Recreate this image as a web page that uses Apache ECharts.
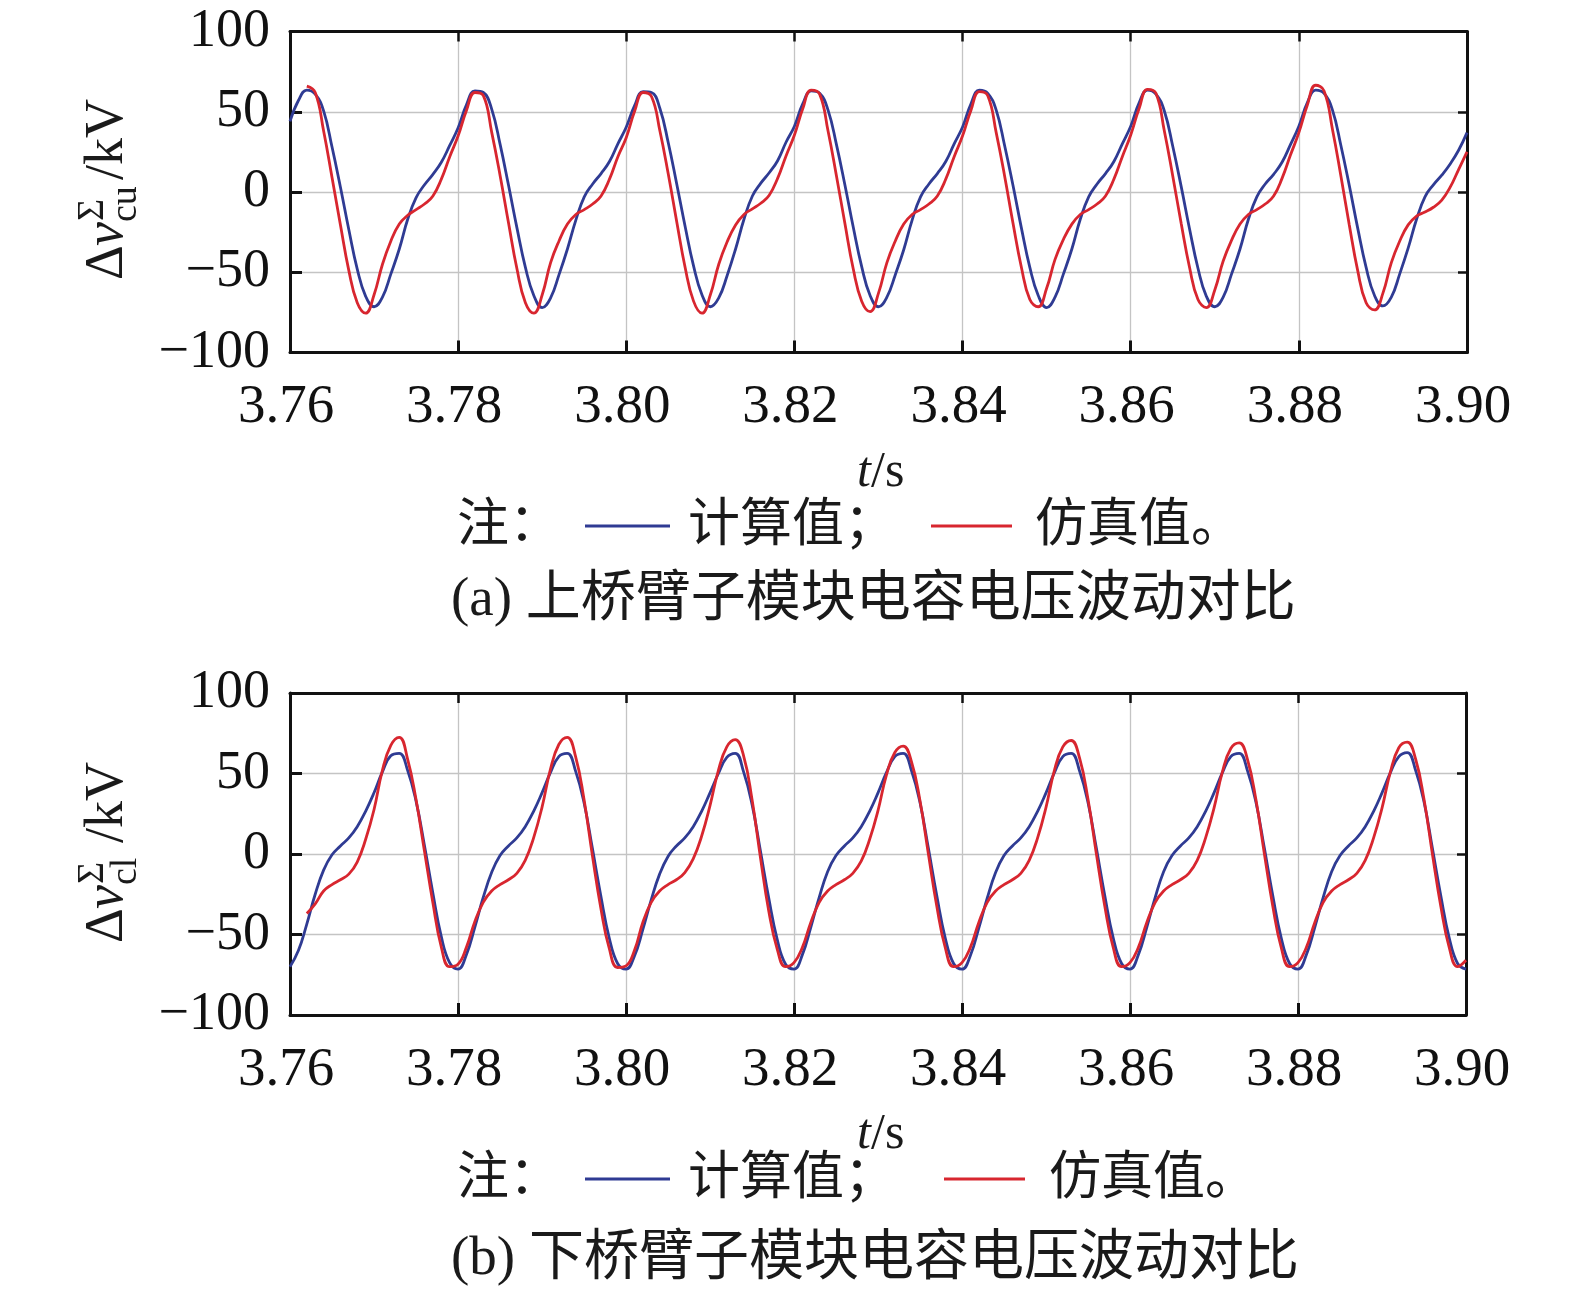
<!DOCTYPE html>
<html>
<head>
<meta charset="utf-8">
<script src="https://cdn.jsdelivr.net/npm/echarts@6/dist/echarts.min.js"></script>
<style>
html,body{margin:0;padding:0;background:#fff;}
#chart{width:1575px;height:1297px;}
</style>
</head>
<body>
<div id="chart"></div>
<script>
// ---- sample times (s) ----
const times = [
3.760,3.761,3.762,3.763,3.764,3.765,3.766,3.767,3.768,3.769,3.770,3.771,3.772,3.773,3.774,3.775,3.776,3.777,3.778,3.779,
3.780,3.781,3.782,3.783,3.784,3.785,3.786,3.787,3.788,3.789,3.790,3.791,3.792,3.793,3.794,3.795,3.796,3.797,3.798,3.799,
3.800,3.801,3.802,3.803,3.804,3.805,3.806,3.807,3.808,3.809,3.810,3.811,3.812,3.813,3.814,3.815,3.816,3.817,3.818,3.819,
3.820,3.821,3.822,3.823,3.824,3.825,3.826,3.827,3.828,3.829,3.830,3.831,3.832,3.833,3.834,3.835,3.836,3.837,3.838,3.839,
3.840,3.841,3.842,3.843,3.844,3.845,3.846,3.847,3.848,3.849,3.850,3.851,3.852,3.853,3.854,3.855,3.856,3.857,3.858,3.859,
3.860,3.861,3.862,3.863,3.864,3.865,3.866,3.867,3.868,3.869,3.870,3.871,3.872,3.873,3.874,3.875,3.876,3.877,3.878,3.879,
3.880,3.881,3.882,3.883,3.884,3.885,3.886,3.887,3.888,3.889,3.890,3.891,3.892,3.893,3.894,3.895,3.896,3.897,3.898,3.899,
3.900];

// ---- (a) upper arm: calculated (blue) ----
const upperCalc = [
44,57,63.5,61,50.5,28,3,-23.5,-48,-65,-71.5,-65.5,-51,-35.5,-17,-3.5,4.5,11,18.5,29,
40,54.5,63,62,51.5,29.5,4,-22.5,-47,-64.5,-72,-66,-51.5,-35.5,-17.5,-3,5,11.5,19,30,
40.5,54,62.5,62,52,30.5,5,-21.5,-46,-64,-71.5,-66,-52,-35.5,-17,-2.5,5.5,12,19.5,31,
41,55,63,61.5,51,29.5,4.5,-22,-46.5,-64.5,-71.5,-65.5,-51.5,-36,-17.5,-3,5,11.5,19,30,
40.5,55,63.5,61.5,51,29,4,-22.5,-47,-64.5,-72,-65.5,-51,-35.5,-17,-3,5,11.5,19,30,
41,55.5,63.5,61,50.5,28.5,3.5,-23,-47.5,-65,-71.5,-65.5,-51,-35.5,-17,-3,5,11,18.5,29.5,
41,55.5,63.5,61.5,51,29,4,-22.5,-47,-64.5,-71,-65.5,-51,-35,-17,-3,4.5,10.5,17.5,26,
37];

// ---- (a) upper arm: simulated (red) ----
const upperSim = [
null,null,66,62,38,9,-20.5,-49,-69,-75.5,-64,-45,-30.5,-20,-14.5,-11,-7.5,-2.5,8,22,
35,51,62,60,37,10,-19.5,-48,-69,-75.5,-64,-44,-30.5,-20,-14,-11,-7.5,-2.5,8,22,
34,50.5,62,59.5,38,11,-18.5,-47,-68,-75.5,-64,-45,-31,-20.5,-14,-10.5,-7,-2,8.5,22.5,
35.5,52,63.5,61,38,10,-19.5,-48,-68,-74.5,-63,-44,-30.5,-20,-14,-11,-7.5,-2.5,8,22,
35,51,62.5,60,37,10,-19.5,-47,-67,-71.5,-60,-42,-29.5,-20,-14,-11,-7.5,-2.5,8,22,
35.5,52,64,61.5,38,10,-19.5,-47,-67,-72,-61,-43,-30,-20,-14,-11,-7.5,-2.5,8.5,23,
37,54,66.5,63,39,10,-20.5,-49,-69,-73.5,-63,-44,-30.5,-20.5,-15,-12.5,-9.5,-5,3,14,
25];

// ---- (b) lower arm: calculated (blue) ----
const lowerCalc = [
-70,-60,-43.5,-25,-10,-0.5,5,10,17,26.5,38,51,61,62.5,52,33,5.5,-24,-51,-67.5,
-71.5,-62.5,-45.5,-27,-11.5,-1,5,10,17,26.5,38,50.5,60.5,62.5,51.5,32,3.5,-26,-52,-68,
-71.5,-63.5,-47,-28.5,-12.5,-1.5,5,10,17,26.5,38,50,60,62.5,51,31,2,-27.5,-53,-68.5,
-71.5,-62.5,-45.5,-27,-11,-1,5,10,17,26.5,38,50.5,60.5,62.5,51.5,32,3.5,-26,-52,-68,
-71.5,-63,-46,-27.5,-11.5,-1,5,10,17,26.5,38,50.5,60.5,62.5,51.5,32,3.5,-26,-52,-68,
-71.5,-62.5,-45.5,-27,-11,-1,5,10,17,26.5,38,50.5,60.5,62.5,51.5,32,3.5,-26,-52,-68,
-71.5,-62.5,-45.5,-27,-11,-1,5,10,17,26.5,38,50.5,60.5,63,52,32.5,3.5,-26,-52,-68,
-71.5];

// ---- (b) lower arm: simulated (red) ----
const lowerSim = [
null,null,-37,-31,-23,-19,-16,-12.5,-5,9,27.5,52,67.5,72.5,59,34,2,-30,-57.5,-70,
-68.5,-58,-42,-30,-23,-19,-16,-12,-4,10,29,52.5,68,72.5,60.5,34,-1,-33.5,-58.5,-70.5,
-69.5,-60,-42.5,-30,-23,-19,-16,-11.5,-3,11,30,52,66.5,71,61,34,-2,-35.5,-59,-70,
-67.5,-58,-42.5,-30,-23,-19,-16,-12,-4.5,9,27,49,63,67,57,33,0,-32.5,-58,-70,
-67.5,-58,-42.5,-30,-23,-19,-16,-12,-4,10,29,52,66.5,70.5,59.5,34,0,-32.5,-58,-70,
-67.5,-58,-42.5,-30,-23,-19,-16,-12,-4,10,28.5,51,65.5,69,58.5,33.5,0,-32.5,-58,-70,
-67.5,-58,-42.5,-30,-23,-19,-16,-12,-4,10,28.5,51,66,69.5,59,34,0,-32.5,-58,-70,
-66];

// ---- axis ticks / labels ----
const xTicks = [3.76,3.78,3.80,3.82,3.84,3.86,3.88,3.90];
const xTickLabels = ['3.76','3.78','3.80','3.82','3.84','3.86','3.88','3.90'];
const yTicks = [-100,-50,0,50,100];
const yTickLabels = ['\u2212100','\u221250','0','50','100'];

// ---- texts ----
const seriesNames = ['计算值','仿真值'];
const captionA = '(a) 上桥臂子模块电容电压波动对比';
const captionB = '(b) 下桥臂子模块电容电压波动对比';

const BLUE = '#2f3b93';
const RED = '#d8262f';
const SERIF = '"Liberation Serif", "Times New Roman", "Noto Sans CJK SC", serif';
const CJK = '"Liberation Serif", "Noto Sans CJK SC", serif';

const grids = [
  {left: 290, top: 31.5, width: 1177, height: 321},
  {left: 290, top: 693, width: 1176, height: 322}
];

function xLabel(v){
  const i = xTicks.findIndex(t => Math.abs(t - v) < 1e-6);
  return i >= 0 ? xTickLabels[i] : '';
}
function yLabel(v){
  const i = yTicks.findIndex(t => Math.abs(t - v) < 1e-6);
  return i >= 0 ? yTickLabels[i] : '';
}

const xAxes = [], yAxes = [];
grids.forEach((g, gi) => {
  xAxes.push({
    type: 'value', gridIndex: gi, position: 'bottom',
    min: xTicks[0], max: xTicks[xTicks.length-1], interval: 0.02,
    axisLine: {show: true, onZero: false, lineStyle: {color: '#111', width: 3}},
    axisTick: {show: true, inside: true, length: 12, lineStyle: {color: '#111', width: 3}},
    axisLabel: {show: true, formatter: xLabel, margin: 28, color: '#111', fontSize: 55, fontFamily: SERIF, padding: [0, 8, 0, 0]},
    splitLine: {show: true, lineStyle: {color: '#c4c4c4', width: 1.3}}
  });
  xAxes.push({
    type: 'value', gridIndex: gi, position: 'top',
    min: xTicks[0], max: xTicks[xTicks.length-1], interval: 0.02,
    axisLine: {show: true, onZero: false, lineStyle: {color: '#111', width: 3}},
    axisTick: {show: true, inside: true, length: 10, lineStyle: {color: '#111', width: 2.5}},
    axisLabel: {show: false}, splitLine: {show: false}
  });
  yAxes.push({
    type: 'value', gridIndex: gi, position: 'left',
    min: -100, max: 100, interval: 50,
    axisLine: {show: true, onZero: false, lineStyle: {color: '#111', width: 3}},
    axisTick: {show: true, inside: true, length: 12, lineStyle: {color: '#111', width: 3}},
    axisLabel: {show: true, formatter: yLabel, margin: 20, color: '#111', fontSize: 54, fontFamily: SERIF},
    splitLine: {show: true, lineStyle: {color: '#c4c4c4', width: 1.3}}
  });
  yAxes.push({
    type: 'value', gridIndex: gi, position: 'right',
    min: -100, max: 100, interval: 50,
    axisLine: {show: true, onZero: false, lineStyle: {color: '#111', width: 3}},
    axisTick: {show: true, inside: true, length: 9, lineStyle: {color: '#111', width: 2.5}},
    axisLabel: {show: false}, splitLine: {show: false}
  });
});

function pts(vals){ return times.map((t, i) => [t, vals[i]]); }
function lineSeries(name, vals, gi, color){
  return {
    name: name, type: 'line', xAxisIndex: gi*2, yAxisIndex: gi*2,
    data: pts(vals), showSymbol: false, smooth: 0.45, clip: true,
    lineStyle: {color: color, width: 2.8}, itemStyle: {color: color},
    animation: false
  };
}

function txt(x, y, text, size, align){
  return {
    type: 'text', x: x, y: y,
    style: {text: text, font: size + 'px ' + CJK, fill: '#1a1a1a',
      textAlign: align || 'left', textVerticalAlign: 'middle', textBaseline: 'middle'}
  };
}
function hline(x1, x2, y, color){
  return {type: 'line', shape: {x1: x1, y1: y, x2: x2, y2: y}, style: {stroke: color, lineWidth: 3}};
}
function yName(cx, cy, sub){
  const f = 54, s = 38;
  const font = (sz, it) => (it ? 'italic ' : '') + sz + 'px ' + SERIF;
  const t = (x, y, text, sz, it) => ({type:'text', x:x, y:y, style:{text:text, font: font(sz, it), fill:'#1a1a1a', textAlign:'left', textVerticalAlign:'middle', textBaseline:'middle'}});
  return {
    type: 'group', x: cx, y: cy, rotation: Math.PI/2,
    children: [
      t(-92, 0, '\u0394', f),
      t(-58, 0, 'v', f, true),
      t(-33, -15, '\u03A3', s),
      t(-34, 18, sub, s),
      t(8, 0, '/kV', f)
    ]
  };
}
function tsName(cx, cy){
  return {
    type: 'group', x: cx, y: cy,
    children: [
      {type:'text', x:-8, y:0, style:{text:'t', font:'italic 50px ' + SERIF, fill:'#1a1a1a', textAlign:'right', textVerticalAlign:'middle', textBaseline:'middle'}},
      {type:'text', x:-8, y:0, style:{text:'/s', font:'50px ' + SERIF, fill:'#1a1a1a', textAlign:'left', textVerticalAlign:'middle', textBaseline:'middle'}}
    ]
  };
}
function legendRow(y, redX1, redX2, simX){
  return [
    txt(457, y, '注：', 52),
    hline(585, 670, y - 1, BLUE),
    txt(688, y, seriesNames[0] + '；', 52),
    hline(redX1, redX2, y - 1, RED),
    txt(simX, y, seriesNames[1] + '。', 52)
  ];
}

const graphic = [].concat(
  [yName(108, 188, 'cu'), yName(108, 851, 'cl'), tsName(879, 473), tsName(879, 1135)],
  legendRow(527, 931, 1012, 1035),
  legendRow(1180, 944, 1025, 1049),
  [txt(451, 601, captionA, 55), txt(451, 1260, captionB, 55)]
);

const chart = echarts.init(document.getElementById('chart'), null, {renderer: 'canvas'});
chart.setOption({
  backgroundColor: '#ffffff',
  animation: false,
  grid: grids,
  xAxis: xAxes,
  yAxis: yAxes,
  series: [
    lineSeries(seriesNames[0], upperCalc, 0, BLUE),
    lineSeries(seriesNames[1], upperSim, 0, RED),
    lineSeries(seriesNames[0], lowerCalc, 1, BLUE),
    lineSeries(seriesNames[1], lowerSim, 1, RED)
  ],
  graphic: graphic
});
</script>
</body>
</html>
